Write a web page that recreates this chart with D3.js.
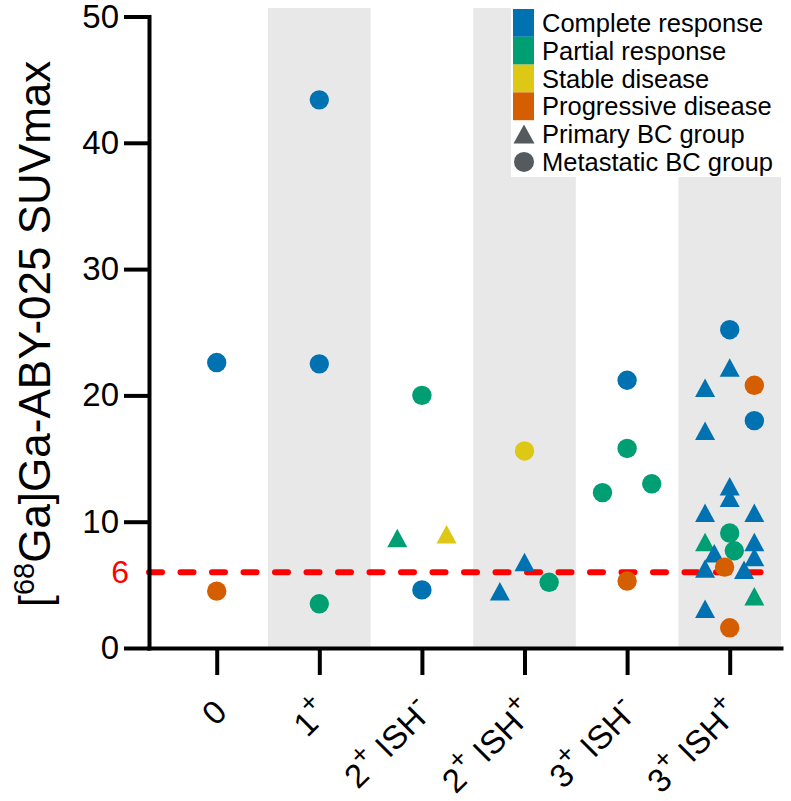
<!DOCTYPE html>
<html><head><meta charset="utf-8">
<script src="https://cdn.jsdelivr.net/npm/d3@7"></script>
<style>body{margin:0;background:#fff}</style>
</head><body>
<script>
// ---- data ----
const categories = ["0", "1+", "2+ ISH-", "2+ ISH+", "3+ ISH-", "3+ ISH+"];
const shadedCategories = ["1+", "2+ ISH+", "3+ ISH+"];
const yTicks = [0, 10, 20, 30, 40, 50];
const threshold = 6;
const responses = ["Complete response", "Partial response", "Stable disease", "Progressive disease"];
const responseColors = ["#0072B2", "#009E73", "#DDC815", "#D55E00"];
const groups = ["Primary BC group", "Metastatic BC group"];

// per point: category, jitter (fraction of category step), SUVmax, response index, group index (0 primary/triangle, 1 metastatic/circle)
const pointCategory = [
  "0","0",
  "1+","1+","1+",
  "2+ ISH-","2+ ISH-","2+ ISH-","2+ ISH-",
  "2+ ISH+","2+ ISH+","2+ ISH+","2+ ISH+",
  "3+ ISH-","3+ ISH-","3+ ISH-","3+ ISH-","3+ ISH-",
  "3+ ISH+","3+ ISH+","3+ ISH+","3+ ISH+","3+ ISH+","3+ ISH+","3+ ISH+","3+ ISH+","3+ ISH+","3+ ISH+","3+ ISH+",
  "3+ ISH+","3+ ISH+","3+ ISH+","3+ ISH+","3+ ISH+","3+ ISH+","3+ ISH+","3+ ISH+","3+ ISH+","3+ ISH+","3+ ISH+"
];
const pointJitter = [
  0, 0,
  0, 0, 0,
  0, -0.24, 0.24, 0,
  0, 0, -0.24, 0.24,
  0, 0, -0.24, 0.24, 0,
  0, 0, -0.24, 0.24, 0.24, -0.24, 0, 0, -0.24, 0.24, 0,
  -0.24, 0.24, 0.045, -0.15, 0.24, -0.05, -0.24, 0.14, 0.24, -0.24, 0
];
const pointValue = [
  22.6, 4.5,
  43.4, 22.5, 3.5,
  20.0, 8.7, 9.0, 4.6,
  15.6, 6.8, 4.5, 5.2,
  21.2, 15.8, 12.3, 13.0, 5.3,
  25.2, 22.2, 20.6, 20.8, 18.0, 17.2, 12.8, 11.9, 10.7, 10.7, 9.1,
  8.4, 8.4, 7.7, 7.5, 7.2, 6.4, 6.3, 6.2, 4.1, 3.1, 1.6
];
const pointResponse = [
  0, 3,
  0, 0, 1,
  1, 1, 2, 0,
  2, 0, 0, 1,
  0, 1, 1, 1, 3,
  0, 0, 0, 3, 0, 0, 0, 0, 0, 0, 1,
  1, 0, 1, 0, 0, 3, 0, 0, 1, 0, 3
];
const pointGroup = [
  1, 1,
  1, 1, 1,
  1, 0, 0, 1,
  1, 0, 0, 1,
  1, 1, 1, 1, 1,
  1, 0, 0, 1, 1, 0, 0, 0, 0, 0, 1,
  0, 0, 1, 0, 0, 1, 0, 0, 0, 0, 1
];

// ---- chart ----
const W = 791, H = 801;
const FONT = "'Liberation Sans', Arial, Helvetica, sans-serif";
const svg = d3.select("body").append("svg")
  .attr("width", W).attr("height", H)
  .style("font-family", FONT);

const axisX = 149;
const x = d3.scaleLinear().domain([-0.66, 5.5]).range([axisX, 781]);
const y = d3.scaleLinear().domain([0, 50]).range([648, 16.5]);
const ci = c => categories.indexOf(c);

// shaded bands
svg.append("g").selectAll("rect").data(shadedCategories).join("rect")
  .attr("x", d => x(ci(d) - 0.5))
  .attr("width", d => x(ci(d) + 0.5) - x(ci(d) - 0.5))
  .attr("y", 8).attr("height", y(0) - 8)
  .attr("fill", "#E8E8E8");

// threshold line
svg.append("line")
  .attr("x1", axisX).attr("x2", 768)
  .attr("y1", y(threshold)).attr("y2", y(threshold))
  .attr("stroke", "#FF0000").attr("stroke-width", 6)
  .attr("stroke-dasharray", "13,18.5").attr("stroke-linecap", "round");

// axes
const gy = svg.append("g").attr("transform", `translate(${axisX},0)`)
  .call(d3.axisLeft(y).tickValues(yTicks).tickSize(25).tickSizeOuter(0).tickPadding(5));
const gx = svg.append("g").attr("transform", `translate(0,${y(0)})`)
  .call(d3.axisBottom(x).tickValues(categories.map((d, i) => i)).tickSize(27).tickSizeOuter(0).tickFormat(""));
[gy, gx].forEach(g => {
  g.select(".domain").attr("stroke", "#000").attr("stroke-width", 4).attr("stroke-linecap", "square");
  g.selectAll(".tick line").attr("stroke", "#000").attr("stroke-width", 4);
});
gy.selectAll(".tick text").attr("font-size", 33).attr("fill", "#000").attr("font-family", FONT);

// threshold label
svg.append("text").attr("x", 129).attr("y", y(threshold))
  .attr("text-anchor", "end").attr("dominant-baseline", "central")
  .attr("font-size", 32).attr("fill", "#FF0000").text(threshold);

// x labels with superscript signs
const xl = svg.append("g").selectAll("text").data(categories).join("text")
  .attr("transform", (d, i) => `translate(${x(i) + 12},${y(0) + 66}) rotate(-45)`)
  .attr("text-anchor", "end").attr("font-size", 33).attr("fill", "#000");
xl.each(function(d) {
  const t = d3.select(this);
  d.split(/([+-])/).filter(s => s.length).forEach(part => {
    if (part === "+" || part === "-") {
      t.append("tspan").attr("baseline-shift", "super").attr("font-size", 27).text(part);
    } else {
      t.append("tspan").text(part);
    }
  });
});

// y title
const yt = svg.append("text")
  .attr("transform", `translate(50,${334}) rotate(-90)`)
  .attr("text-anchor", "middle").attr("font-size", 44).attr("fill", "#000");
yt.append("tspan").text("[");
yt.append("tspan").attr("baseline-shift", "super").attr("font-size", 29).text("68");
yt.append("tspan").text("Ga]Ga-ABY-025 SUVmax");

// points
const triPath = (w, h) => `M0,${-h / 2}L${w / 2},${h / 2}L${-w / 2},${h / 2}Z`;
const pts = pointValue.map((v, i) => ({
  cx: x(ci(pointCategory[i]) + pointJitter[i]), cy: y(v),
  color: responseColors[pointResponse[i]], g: pointGroup[i]
}));
const gp = svg.append("g");
pts.forEach(p => {
  if (p.g === 1) {
    gp.append("circle").attr("cx", p.cx).attr("cy", p.cy).attr("r", 9.7).attr("fill", p.color);
  } else {
    gp.append("path").attr("d", triPath(20, 18.5))
      .attr("transform", `translate(${p.cx},${p.cy})`).attr("fill", p.color);
  }
});

// legend
const lg = svg.append("g");
lg.append("rect").attr("x", 511).attr("y", 3).attr("width", 280).attr("height", 174).attr("fill", "#fff");
const rowH = 27.8, top0 = 9;
responses.forEach((r, i) => {
  lg.append("rect").attr("x", 513).attr("y", top0 + i * rowH).attr("width", 21).attr("height", rowH)
    .attr("fill", responseColors[i]);
  lg.append("text").attr("x", 542).attr("y", top0 + (i + 0.5) * rowH)
    .attr("dominant-baseline", "central").attr("font-size", 25.5).attr("fill", "#000").text(r);
});
const gcol = "#555A5F";
groups.forEach((g, i) => {
  const cy = top0 + (4.5 + i) * rowH;
  if (i === 0) {
    lg.append("path").attr("d", triPath(21, 19)).attr("transform", `translate(524,${cy})`).attr("fill", gcol);
  } else {
    lg.append("circle").attr("cx", 524).attr("cy", cy).attr("r", 10).attr("fill", gcol);
  }
  lg.append("text").attr("x", 542).attr("y", cy)
    .attr("dominant-baseline", "central").attr("font-size", 25.5).attr("fill", "#000").text(g);
});
</script>
</body></html>
